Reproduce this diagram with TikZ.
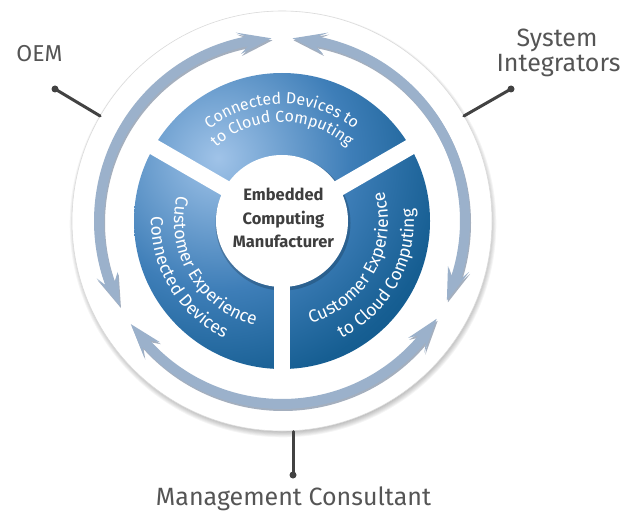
\documentclass[tikz,border=0pt]{standalone}
\usepackage{fontspec}
\setmainfont{Fira Sans}
\usetikzlibrary{calc,decorations.text}
\definecolor{segdark}{RGB}{8,78,128}
\definecolor{segmid}{RGB}{62,126,184}
\definecolor{segmid2}{RGB}{22,94,146}
\definecolor{seglight}{RGB}{160,195,232}
\definecolor{arrowblue}{RGB}{155,177,203}
\definecolor{arrowshade}{RGB}{90,110,138}
\definecolor{labelgray}{RGB}{85,85,85}
\definecolor{centergray}{RGB}{62,62,62}
\definecolor{leadgray}{RGB}{66,66,66}
\pgfdeclareradialshading{segshade}{\pgfpoint{0bp}{0bp}}{%
  color(0bp)=(seglight); color(11bp)=(segmid); color(19bp)=(segmid2);
  color(27bp)=(segdark); color(50bp)=(segdark)}
\newcommand\ringarrow[3]{%
  \fill[#1] (#2:183) -- ({#2+10.5}:194) -- ({#2+7.8}:188)
    arc[start angle={#2+7.8}, end angle={#3-7.8}, radius=188]
    -- ({#3-10.5}:194) -- (#3:183) -- ({#3-10.5}:172) -- ({#3-7.8}:178)
    arc[start angle={#3-7.8}, end angle={#2+7.8}, radius=178]
    -- ({#2+10.5}:172) -- cycle;}
\begin{document}
\begin{tikzpicture}[x=1pt,y=1pt,
  lbl/.style={text=labelgray, font=\fontsize{25}{25}\selectfont, inner sep=0pt, anchor=base},
  leader/.style={draw=leadgray, line width=3pt, line cap=round},
  dotmark/.style={circle, fill=leadgray, inner sep=0pt, minimum size=7pt},
  gapline/.style={white, line width=16pt},
  segtext/.style n args={2}{decorate, decoration={text along path, text align=center,
     text={|\color{white}\fontsize{#1}{#1}\selectfont|#2}}},
]
\useasboundingbox (0,0) rectangle (636,512);
\coordinate (c) at (282,291);
% outer white disc with soft shadow
\foreach \k in {0,...,7} { \fill[black, opacity=0.04] ($(c)+(1,-3)$) circle ({207+0.9*\k}); }
\fill[white] (c) circle (210);
\draw[black!14, line width=0.6pt] (c) circle (210);
% arrow ring
\begin{scope}[shift={(c)}]
  \ringarrow{arrowshade, opacity=0.55, shift={(1,-2)}}{93.3}{207.7}
  \ringarrow{arrowshade, opacity=0.55, shift={(1,-2)}}{214.3}{327.7}
  \ringarrow{arrowshade, opacity=0.55, shift={(1,-2)}}{334.3}{446.7}
  \ringarrow{arrowblue}{93.3}{207.7}
  \ringarrow{arrowblue}{214.3}{327.7}
  \ringarrow{arrowblue}{334.3}{446.7}
\end{scope}
% segments
\begin{scope}
  \clip (c) circle (148);
  \shade[shading=segshade] (218,354) circle (300);
\end{scope}
\fill[black, opacity=0.18] ($(c)+(1,-2)$) circle (67.5);
\foreach \a in {30,150,270} \draw[gapline] (c) -- ++(\a:152);
\fill[white] (c) circle (66);
% segment texts
\path[segtext={16}{Connected Devices to}] ($(c)+(150:117)$) arc[start angle=150, end angle=30, radius=117];
\path[segtext={16}{to Cloud Computing}] ($(c)+(150:99)$) arc[start angle=150, end angle=30, radius=99];
\path[segtext={17.5}{Customer Experience}] ($(c)+(156:108)$) arc[start angle=156, end angle=266, radius=108];
\path[segtext={17.5}{Connected Devices}] ($(c)+(156:131)$) arc[start angle=156, end angle=266, radius=131];
\path[segtext={17.5}{Customer Experience}] ($(c)+(276:106)$) arc[start angle=276, end angle=386, radius=106];
\path[segtext={17.5}{to Cloud Computing}] ($(c)+(276:132)$) arc[start angle=276, end angle=386, radius=132];
% centre text
\node[font=\bfseries\fontsize{16.5}{23.5}\selectfont, text=centergray, align=center] (center) at ($(c)+(1.5,3)$) {Embedded\\Computing\\Manufacturer};
% outer labels and leaders
\node[lbl, font=\fontsize{23}{23}\selectfont] (oem) at (39.5,450) {OEM};
\node[lbl] (sys) at (557,465) {System};
\node[lbl] (integ) at (558.5,440) {Integrators};
\node[lbl] (mgmt) at (293.5,7) {Management Consultant};
\coordinate (oemA) at ($(c)+(150:210)$);
\coordinate (sysA) at ($(c)+(30:210)$);
\coordinate (mgmtA) at (293,80.5);
\node[dotmark] (oemdot) at (55,423) {};
\node[dotmark] (sysdot) at (511,423) {};
\node[dotmark] (mgmtdot) at (293,37) {};
\draw[leader] (oemdot.center) -- (oemA);
\draw[leader] (sysdot.center) -- (sysA);
\draw[leader] (mgmtdot.center) -- (mgmtA);
\end{tikzpicture}
\end{document}
